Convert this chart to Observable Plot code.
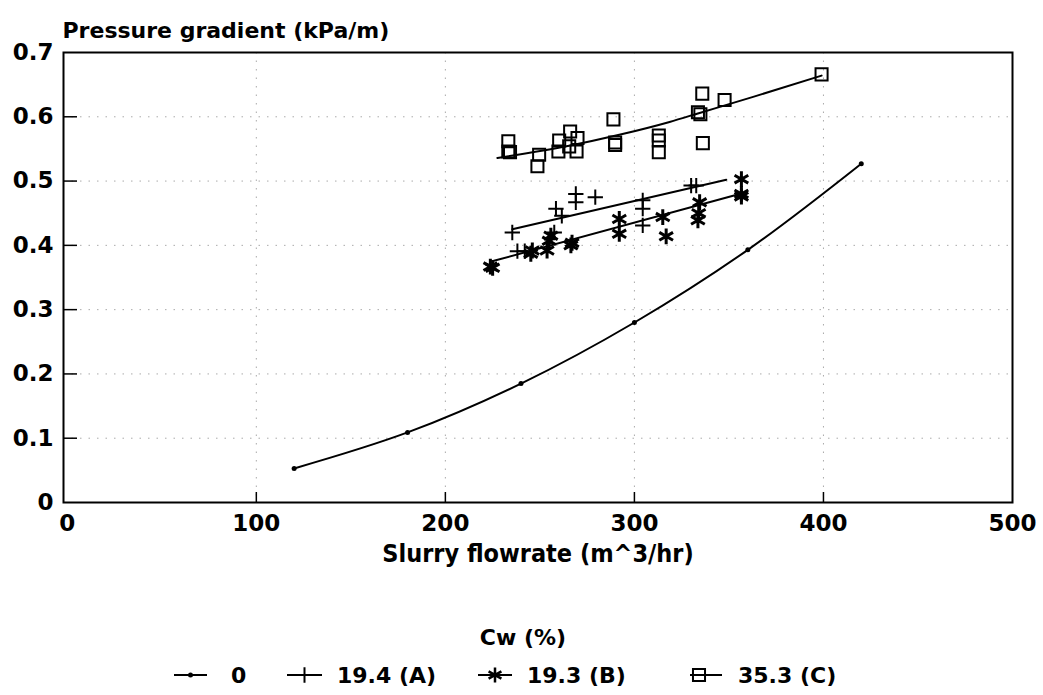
<!DOCTYPE html>
<html><head><meta charset="utf-8">
<script src="https://cdn.jsdelivr.net/npm/d3@7"></script>
<script src="https://cdn.jsdelivr.net/npm/@observablehq/plot@0.6"></script>
<style>
body{margin:0;background:#fff;}
#chart svg, #legend svg{display:block}
</style></head><body><div id="chart"></div><div id="legend"></div>
<script>
// ---- data ----
const xTicks = [0, 100, 200, 300, 400, 500];
const yTicks = [0, 0.1, 0.2, 0.3, 0.4, 0.5, 0.6, 0.7];
const yTickLabels = ["0", "0.1", "0.2", "0.3", "0.4", "0.5", "0.6", "0.7"];

// Cw = 0 (dots + smooth curve)
const s0X = [120, 180, 240, 300, 360, 420];
const s0Y = [0.053, 0.109, 0.185, 0.28, 0.393, 0.527];

// Cw = 19.4 (A) plus
const aX = [235.4, 238.1, 242, 257.6, 258.5, 261.6, 269, 269, 279.3, 304.4, 304.4, 304.4, 330, 332.7];
const aY = [0.42, 0.391, 0.391, 0.42, 0.457, 0.446, 0.48, 0.467, 0.475, 0.47, 0.457, 0.431, 0.493, 0.493];
const aFitX = [235.4, 348.6];
const aFitY = [0.425, 0.502];

// Cw = 19.3 (B) asterisk
const bX = [223.8, 225, 245.2, 246, 253.8, 254.9, 255.8, 266.4, 267, 292, 292, 315, 316.8, 334.5, 333.6, 334, 356.6, 356.6, 356.6];
const bY = [0.367, 0.365, 0.387, 0.392, 0.392, 0.407, 0.415, 0.4, 0.404, 0.441, 0.418, 0.444, 0.414, 0.467, 0.439, 0.45, 0.503, 0.48, 0.476];
const bFitX = [225.7, 355.6];
const bFitY = [0.376, 0.48];

// Cw = 35.3 (C) squares
const cX = [233.3, 233.3, 234.2, 249.6, 248.7, 260.2, 259.8, 266, 269.9, 265.5, 269.4, 288.9, 289.8, 289.8, 312.9, 312.9, 312.9, 335.9, 333.6, 334.9, 336.2, 347.7, 399];
const cY = [0.562, 0.546, 0.545, 0.541, 0.523, 0.563, 0.546, 0.577, 0.567, 0.554, 0.546, 0.596, 0.56, 0.556, 0.571, 0.563, 0.545, 0.636, 0.607, 0.604, 0.559, 0.626, 0.666];
const cFitX = [227.5, 265.5, 292, 318.6, 334.5, 362.8, 399];
const cFitY = [0.536, 0.555, 0.572, 0.592, 0.606, 0.631, 0.664];

const legendItems = ["0", "19.4 (A)", "19.3 (B)", "35.3 (C)"];
const legendTitle = "Cw (%)";
const xLabel = "Slurry flowrate (m^3/hr)";
const yLabel = "Pressure gradient (kPa/m)";

// ---- build tables ----
const zip = (xs, ys) => xs.map((x, i) => ({x, y: ys[i]}));
const s0 = zip(s0X, s0Y), A = zip(aX, aY), B = zip(bX, bY), C = zip(cX, cY);
const Afit = zip(aFitX, aFitY), Bfit = zip(bFitX, bFitY), Cfit = zip(cFitX, cFitY);

const W = 1043, H = 600, mL = 63, mR = 31, mT = 52, mB = 98;
const innerW = W - mL - mR, innerH = H - mT - mB;
const FONT = "'DejaVu Sans', sans-serif";
const inner = [0.1, 0.2, 0.3, 0.4, 0.5, 0.6];
const innerX = [100, 200, 300, 400];

const chart = Plot.plot({
  width: W, height: H,
  marginLeft: mL, marginRight: mR, marginTop: mT, marginBottom: mB,
  style: {fontFamily: FONT, fontWeight: "bold", fontSize: "23px", background: "#fff", color: "#000", overflow: "visible"},
  x: {domain: [-2, 500], axis: null},
  y: {domain: [0, 0.7], axis: null},
  marks: [
    Plot.ruleY(inner, {stroke: "#aaa", strokeWidth: 1, strokeDasharray: "1.5,7"}),
    Plot.ruleX(innerX, {stroke: "#aaa", strokeWidth: 1, strokeDasharray: "1.5,7"}),
    Plot.tickY(inner, {y: d => d, insetRight: innerW - 14, stroke: "#000", strokeWidth: 1.5}),
    Plot.tickX(innerX, {x: d => d, insetTop: innerH - 10, stroke: "#000", strokeWidth: 1.5}),
    Plot.frame({stroke: "#000", strokeWidth: 2}),
    Plot.axisY(yTicks, {anchor: "left", tickSize: 0, tickPadding: 10, label: null,
      tickFormat: (d, i) => yTickLabels[i], fontSize: 23, fontWeight: "bold"}),
    Plot.axisX(xTicks, {anchor: "bottom", tickSize: 0, tickPadding: 12, label: null,
      tickFormat: d => String(d), fontSize: 23, fontWeight: "bold"}),
    Plot.text([yLabel], {text: d => d, frameAnchor: "top-left", dx: -1, dy: -30, textAnchor: "start", fontSize: 22, fontWeight: "bold"}),
    Plot.text([xLabel], {text: d => d, frameAnchor: "bottom", dy: 59, fontSize: 25, fontWeight: "bold", fontFamily: "'DejaVu Sans Condensed', 'DejaVu Sans', sans-serif"}),
    Plot.line(s0, {x: "x", y: "y", curve: "catmull-rom", stroke: "#000", strokeWidth: 2}),
    Plot.dot(s0, {x: "x", y: "y", r: 2.5, fill: "#000"}),
    Plot.line(Afit, {x: "x", y: "y", stroke: "#000", strokeWidth: 2}),
    Plot.line(Bfit, {x: "x", y: "y", stroke: "#000", strokeWidth: 2}),
    Plot.line(Cfit, {x: "x", y: "y", curve: "monotone-x", stroke: "#000", strokeWidth: 2}),
    Plot.dot(A, {x: "x", y: "y", symbol: "plus", r: 5, stroke: "#000", strokeWidth: 2}),
    Plot.dot(B, {x: "x", y: "y", symbol: "asterisk", r: 7.5, stroke: "#000", strokeWidth: 3}),
    Plot.dot(C, {x: "x", y: "y", symbol: "square", r: 6.8, stroke: "#000", strokeWidth: 2, fill: "none"})
  ]
});
document.getElementById("chart").appendChild(chart);

// ---- legend below the chart ----
const LH = 95;
const lg = d3.create("svg").attr("width", W).attr("height", LH)
  .style("font-family", FONT).style("font-weight", "bold").style("font-size", "22px");
lg.append("text").attr("x", 523).attr("y", 37).attr("text-anchor", "middle").attr("dominant-baseline", "central").text(legendTitle);
const rowY = 75;
const items = [
  {x1: 174, x2: 207, tx: 231, sym: "dot"},
  {x1: 287, x2: 322, tx: 337, sym: "plus"},
  {x1: 478, x2: 512, tx: 527, sym: "asterisk"},
  {x1: 690, x2: 722, tx: 738, sym: "square"}
];
const symMap = {plus: d3.symbolPlus, asterisk: d3.symbolAsterisk, square: d3.symbolSquare};
items.forEach((it, i) => {
  lg.append("line").attr("x1", it.x1).attr("x2", it.x2).attr("y1", rowY).attr("y2", rowY).attr("stroke", "#000").attr("stroke-width", 2);
  const cx = it.sym === "square" ? it.x1 + 9 : (it.x1 + it.x2) / 2;
  if (it.sym === "dot") {
    lg.append("circle").attr("cx", cx).attr("cy", rowY).attr("r", 2.5).attr("fill", "#000");
  } else {
    const size = it.sym === "plus" ? Math.PI * 25 : it.sym === "asterisk" ? Math.PI * 49 : Math.PI * 6.8 * 6.8;
    lg.append("path").attr("transform", `translate(${cx},${rowY})`)
      .attr("d", d3.symbol(symMap[it.sym], size)())
      .attr("fill", "none").attr("stroke", "#000").attr("stroke-width", it.sym === "asterisk" ? 2.5 : 2);
  }
  lg.append("text").attr("x", it.tx).attr("y", rowY).attr("dominant-baseline", "central").text(legendItems[i]);
});
document.getElementById("legend").appendChild(lg.node());
</script>
</body></html>
